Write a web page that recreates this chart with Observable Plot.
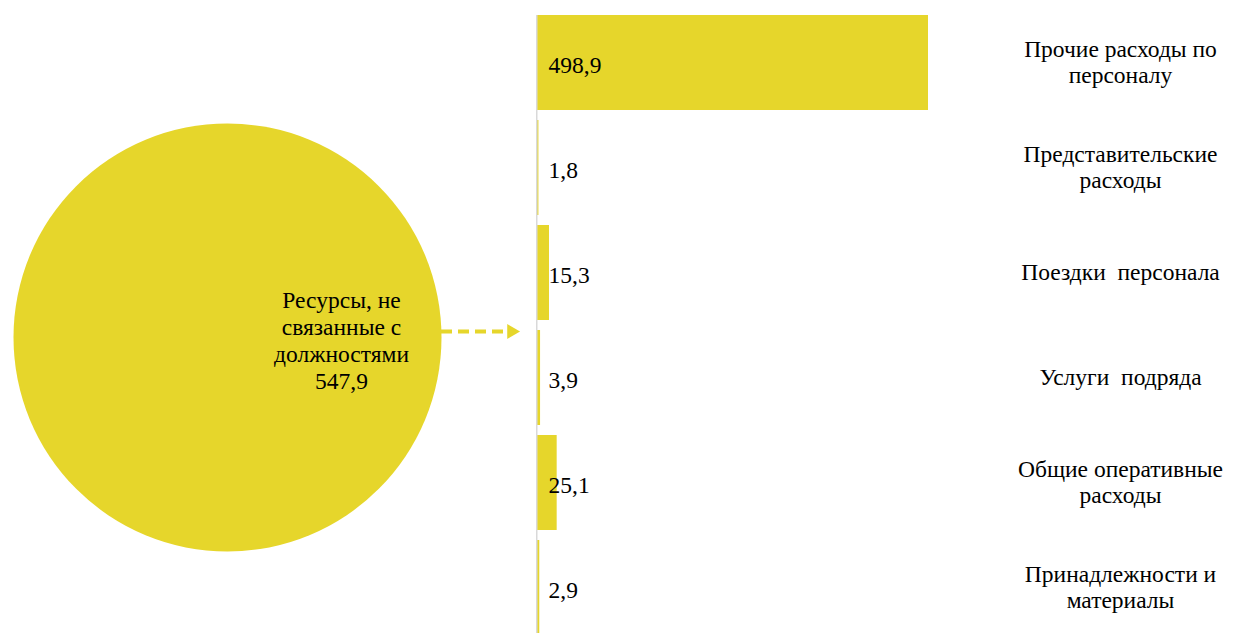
<!DOCTYPE html>
<html>
<head>
<meta charset="utf-8">
<script src="https://cdn.jsdelivr.net/npm/d3@7"></script>
<script src="https://cdn.jsdelivr.net/npm/@observablehq/plot@0.6"></script>
<style>
  html, body { margin: 0; padding: 0; background: #fff; }
  #wrap { display: flex; flex-direction: row; width: 1234px; height: 633px; overflow: hidden; }
  g[aria-label="total"] circle { filter: drop-shadow(0 0 1.5px rgba(0,0,0,0.35)); }
</style>
</head>
<body>
<div id="wrap"></div>
<script>
// ---- data ----
const categories = [
  "Прочие расходы по персоналу",
  "Представительские расходы",
  "Поездки персонала",
  "Услуги подряда",
  "Общие оперативные расходы",
  "Принадлежности и материалы"
];
const categoryLabels = [
  "Прочие расходы по\nперсоналу",
  "Представительские\nрасходы",
  "Поездки  персонала",
  "Услуги  подряда",
  "Общие оперативные\nрасходы",
  "Принадлежности и\nматериалы"
];
const values = [498.9, 1.8, 15.3, 3.9, 25.1, 2.9];
const totalLabel = "Ресурсы, не\nсвязанные с\nдолжностями";
const totalValue = 547.9;

// ---- helpers ----
const yellow = "#E6D62B";
const font = "'Liberation Serif', 'Times New Roman', serif";
const fmt = v => v.toFixed(1).replace(".", ",");
const rows = categories.map((c, i) => ({category: c, label: categoryLabels[i], value: values[i]}));
const total = [{label: totalLabel, value: totalValue}];

// ---- left: total circle + arrow ----
const left = Plot.plot({
  width: 527,
  height: 633,
  marginLeft: 13,
  marginRight: 86,
  marginTop: 123,
  marginBottom: 82,
  r: {type: "linear", domain: [0, totalValue], range: [0, 214]},
  style: {fontFamily: font, background: "transparent"},
  marks: [
    Plot.dot(total, {r: "value", fill: yellow, stroke: "none", frameAnchor: "middle", ariaLabel: "total"}),
    Plot.text(total, {
      text: d => d.label + "\n" + fmt(d.value),
      frameAnchor: "right", dx: -100, dy: 2,
      textAnchor: "middle", lineAnchor: "middle", lineHeight: 1.15,
      fontSize: 23.5, fill: "#000", fontFamily: font
    }),
    Plot.ruleY([0], {y: null, insetLeft: 428, insetRight: -64, dy: -6,
      stroke: yellow, strokeWidth: 4, strokeDasharray: "11,6"}),
    Plot.dot([0], {frameAnchor: "right", dx: 70, dy: -6, symbol: "triangle", rotate: 90, r: 5.5,
      fill: yellow, stroke: "none"})
  ]
});

// ---- right: bars ----
const right = Plot.plot({
  width: 707,
  height: 633,
  marginLeft: 10,
  marginRight: 306,
  marginTop: 15,
  marginBottom: 0,
  x: {domain: [0, d3.max(values)], axis: null},
  y: {domain: categories, range: [10, 640], paddingInner: 10 / 105, paddingOuter: 5 / 105, axis: null},
  style: {fontFamily: font, background: "transparent"},
  marks: [
    Plot.barX(rows, {x: "value", y: "category", fill: yellow}),
    Plot.ruleX([0], {stroke: "#d9d9d9", strokeWidth: 1.5, dx: -0.75}),
    Plot.text(rows, {
      y: "category", text: d => fmt(d.value),
      frameAnchor: "left", dx: 11, dy: 2,
      textAnchor: "start", fontSize: 23.5, fill: "#000", fontFamily: font
    }),
    Plot.text(rows, {
      y: "category", text: "label",
      frameAnchor: "right", dx: 192, dy: -1,
      textAnchor: "middle", lineAnchor: "middle", lineHeight: 1.1,
      fontSize: 23.5, fill: "#000", fontFamily: font
    })
  ]
});

const wrap = document.getElementById("wrap");
wrap.appendChild(left);
wrap.appendChild(right);
</script>
</body>
</html>
